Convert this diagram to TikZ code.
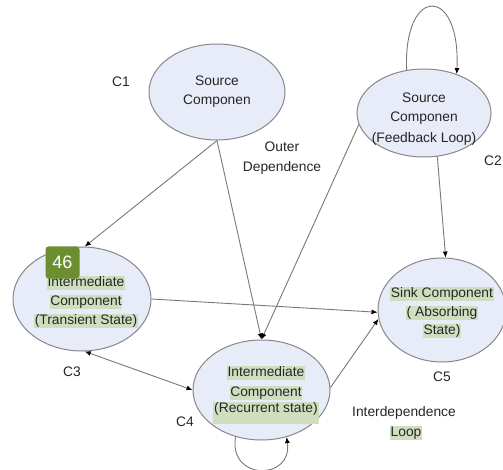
\documentclass[tikz,border=0pt]{standalone}
\usepackage{fontspec}
\setmainfont{Liberation Sans}
\usetikzlibrary{shapes.geometric,arrows.meta}
\definecolor{ellfill}{RGB}{231,236,248}
\definecolor{ellborder}{RGB}{135,135,140}
\definecolor{edgegray}{RGB}{120,120,120}
\definecolor{hlgreen}{RGB}{208,222,192}
\definecolor{badgegreen}{RGB}{106,142,48}
\tikzset{
  comp/.style={ellipse, draw=ellborder, fill=ellfill, line width=1pt, inner sep=0pt},
  txt/.style={font=\fontsize{13.8}{16}\selectfont, inner sep=0.8pt, text height=9.8pt, text depth=3pt, text=black!85},
  hl/.style={txt, fill=hlgreen},
  conn/.style={draw=edgegray, line width=0.9pt, -{Latex[length=6pt,width=5pt,color=black]}},
  biconn/.style={draw=edgegray, line width=0.9pt, {Latex[length=6pt,width=5pt,color=black]}-{Latex[length=6pt,width=5pt,color=black]}},
  badge/.style={fill=badgegreen, rounded corners=3pt, minimum width=34pt, minimum height=32pt, inner sep=0pt, text=white, font=\fontsize{18}{20}\selectfont}
}
\begin{document}
\begin{tikzpicture}[x=1pt,y=-1pt]
\useasboundingbox[fill=white] (0,0) rectangle (503,470);
% components
\node[comp, minimum width=136pt, minimum height=96pt] (c1) at (217,92) {};
\node[comp, minimum width=134pt, minimum height=88pt] (c2) at (424,113) {};
\node[comp, minimum width=138pt, minimum height=104pt] (c3) at (82,299) {};
\node[comp, minimum width=137pt, minimum height=100pt] (c4) at (261.5,390) {};
\node[comp, minimum width=128pt, minimum height=104pt] (c5) at (442,310) {};
% texts inside
\node[txt] (c1a) at (217,82) {Source};
\node[txt] (c1b) at (217,101) {Componen};
\node[txt] (c2a) at (424,99) {Source};
\node[txt] (c2b) at (424,118) {Componen};
\node[txt] (c2c) at (424,139) {(Feedback Loop)};
\node[hl] (c3a) at (86,283) {Intermediate};
\node[hl] (c3b) at (86,302) {Component};
\node[hl] (c3c) at (86,321) {(Transient State)};
\node[hl] (c4a) at (266,373) {Intermediate};
\node[hl] (c4b) at (266,393) {Component};
\node[hl, text depth=10pt] (c4c) at (266,413) {(Recurrent state)};
\node[hl] (c5a) at (442,294) {Sink Component};
\node[hl] (c5b) at (442,313) {( Absorbing};
\node[hl] (c5c) at (442,331) {State)};
% labels
\node[txt] (l1) at (121,83) {C1};
\node[txt] (l2) at (493,162) {C2};
\node[txt] (l3) at (72,373) {C3};
\node[txt] (l4) at (185,423) {C4};
\node[txt] (l5) at (442,378) {C5};
\node[txt] (od1) at (282,148) {Outer};
\node[txt] (od2) at (282,168) {Dependence};
\node[txt] (il1) at (404,413) {Interdependence};
\node[hl] (il2) at (406,433) {Loop};
% connectors
\draw[conn] (c1.south) -- (c3.87);
\draw[conn] (c1.south) -- (c4.north);
\draw[conn] (c2.190) -- (c4.north);
\draw[conn] (c3.east) -- (c5.182);
\draw[conn] (c2.-73) -- (c5.86);
\draw[conn] (c4.2) -- (c5.188);
\draw[biconn] (c3.-87) -- (c4.west);
\draw[conn] (c2.112) .. controls (403,-15) and (461,-15) .. (c2.50);
\draw[conn] (c4.-119.5) .. controls (228,481) and (293,481) .. (c4.-62);
% badge
\node[badge] (b46) at (62.5,262.5) {46};
\end{tikzpicture}
\end{document}
